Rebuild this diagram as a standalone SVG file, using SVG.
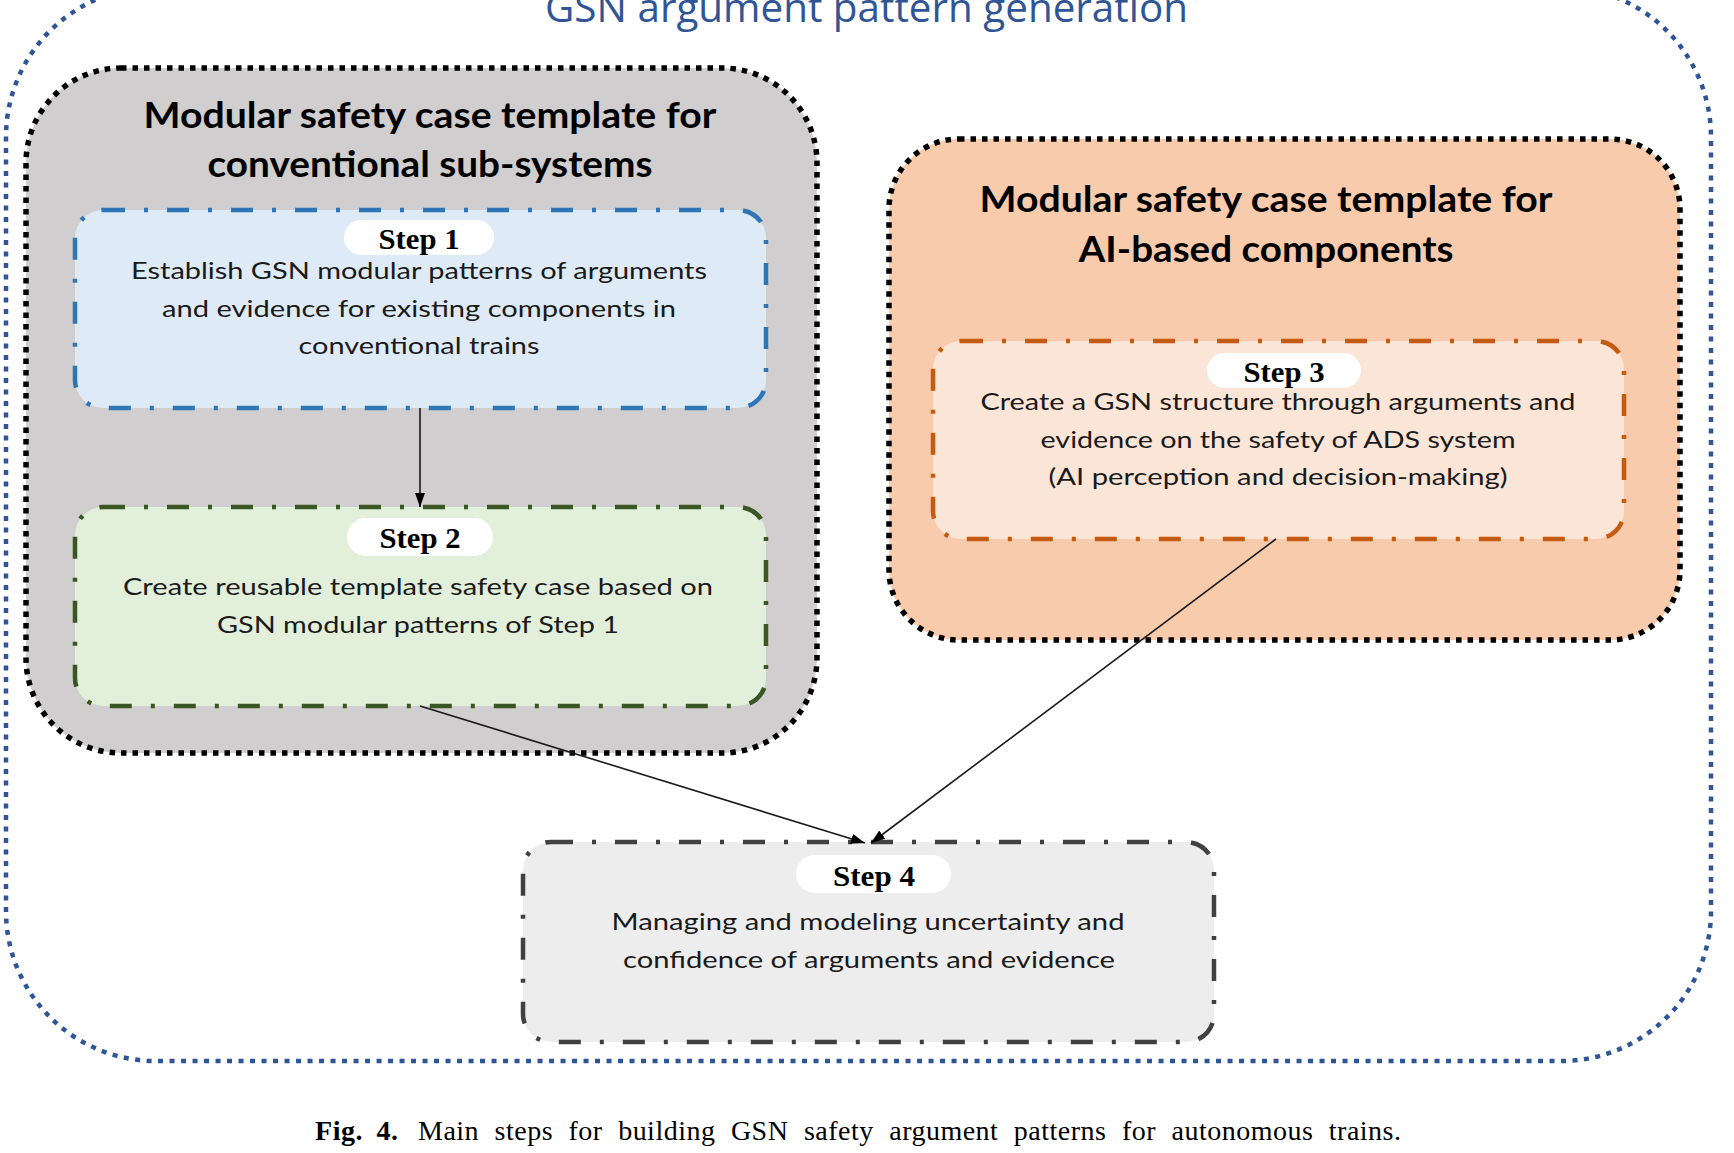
<svg xmlns="http://www.w3.org/2000/svg" width="1734" height="1153" viewBox="0 0 1734 1153">
<style>
.outer{fill:none;stroke:#2f5597;stroke-width:4.5;stroke-dasharray:5 6.5}
.grp{stroke:#000;stroke-width:5.5;stroke-dasharray:5.5 6}
.step{stroke-width:4.5;stroke-dasharray:22 19 4 19}
.pill{fill:#fff}
.ttl{font-family:Lato,"Open Sans",sans-serif;font-weight:bold;font-size:37px;fill:#000;text-anchor:middle}
.body{font-family:Lato,"Open Sans",sans-serif;font-size:24px;fill:#1a1a1a;text-anchor:middle}
.lbl{font-family:"Liberation Serif","Times New Roman",serif;font-weight:bold;font-size:29px;fill:#000;text-anchor:middle}
.cap{font-family:"Liberation Serif","Times New Roman",serif;font-size:28px;fill:#000}
.conn{stroke:#1a1a1a;stroke-width:1.6;fill:none}
</style>
<defs>
<marker id="arr" markerUnits="userSpaceOnUse" markerWidth="15" markerHeight="11" refX="14" refY="5" orient="auto">
<path d="M0,0 L14,5 L0,10 z" fill="#000"/>
</marker>
</defs>
<rect width="1734" height="1153" fill="#fff"/>
<g id="outer">
<rect class="outer" x="6" y="-13" width="1705" height="1074" rx="150"/>
<text x="545" y="22" font-family="'Open Sans',sans-serif" font-size="40" fill="#2f5597" textLength="643" lengthAdjust="spacingAndGlyphs">GSN argument pattern generation</text>
</g>
<g id="conventional">
<rect class="grp" x="26" y="68" width="791" height="685" rx="95" fill="#d0cece"/>
<text class="ttl" x="430" y="128" textLength="573" lengthAdjust="spacingAndGlyphs">Modular safety case template for</text>
<text class="ttl" x="430" y="177" textLength="445" lengthAdjust="spacingAndGlyphs">conventional sub-systems</text>
</g>
<g id="step1">
<rect class="step" x="75" y="210" width="691" height="198" rx="28" fill="#deebf7" stroke="#2e75b6"/>
<rect class="pill" x="344" y="220" width="150" height="35" rx="17.5"/>
<text class="lbl" x="419" y="249" textLength="81" lengthAdjust="spacingAndGlyphs">Step 1</text>
<text class="body" x="419" y="279" textLength="576" lengthAdjust="spacingAndGlyphs">Establish GSN modular patterns of arguments</text>
<text class="body" x="419" y="317" textLength="514" lengthAdjust="spacingAndGlyphs">and evidence for existing components in</text>
<text class="body" x="419" y="354" textLength="241" lengthAdjust="spacingAndGlyphs">conventional trains</text>
</g>
<g id="step2">
<rect class="step" x="75" y="507" width="691" height="199" rx="28" fill="#e2efda" stroke="#385723"/>
<rect class="pill" x="347" y="518" width="146" height="38" rx="19"/>
<text class="lbl" x="420" y="548" textLength="81" lengthAdjust="spacingAndGlyphs">Step 2</text>
<text class="body" x="418" y="595" textLength="590" lengthAdjust="spacingAndGlyphs">Create reusable template safety case based on</text>
<text class="body" x="418" y="633" textLength="402" lengthAdjust="spacingAndGlyphs">GSN modular patterns of Step 1</text>
</g>
<g id="ai">
<rect class="grp" x="889" y="139" width="791" height="501" rx="70" fill="#f8cbad"/>
<text class="ttl" x="1266" y="212" textLength="573" lengthAdjust="spacingAndGlyphs">Modular safety case template for</text>
<text class="ttl" x="1266" y="262" textLength="375" lengthAdjust="spacingAndGlyphs">AI-based components</text>
</g>
<g id="step3">
<rect class="step" x="933" y="341" width="691" height="198" rx="28" fill="#fbe5d6" stroke="#c55a11"/>
<rect class="pill" x="1207" y="353" width="154" height="35" rx="17.5"/>
<text class="lbl" x="1284" y="382" textLength="81" lengthAdjust="spacingAndGlyphs">Step 3</text>
<text class="body" x="1278" y="410" textLength="595" lengthAdjust="spacingAndGlyphs">Create a GSN structure through arguments and</text>
<text class="body" x="1278" y="448" textLength="475" lengthAdjust="spacingAndGlyphs">evidence on the safety of ADS system</text>
<text class="body" x="1278" y="485" textLength="459" lengthAdjust="spacingAndGlyphs">(AI perception and decision-making)</text>
</g>
<g id="step4">
<rect class="step" x="523" y="842" width="691" height="200" rx="28" fill="#ededed" stroke="#404040"/>
<rect class="pill" x="796" y="855" width="155" height="38" rx="19"/>
<text class="lbl" x="874" y="886" textLength="82" lengthAdjust="spacingAndGlyphs">Step 4</text>
<text class="body" x="868" y="930" textLength="513" lengthAdjust="spacingAndGlyphs">Managing and modeling uncertainty and</text>
<text class="body" x="869" y="968" textLength="492" lengthAdjust="spacingAndGlyphs">confidence of arguments and evidence</text>
</g>
<g id="connectors">
<line class="conn" x1="420" y1="408" x2="420" y2="507" marker-end="url(#arr)"/>
<line class="conn" x1="420" y1="706" x2="865" y2="843" marker-end="url(#arr)"/>
<line class="conn" x1="1276" y1="539" x2="871" y2="843" marker-end="url(#arr)"/>
</g>
<g id="caption">
<text class="cap" x="315" y="1140" font-weight="bold" word-spacing="6" textLength="83" lengthAdjust="spacing">Fig. 4.</text>
<text class="cap" x="418" y="1140" word-spacing="8" textLength="983" lengthAdjust="spacing">Main steps for building GSN safety argument patterns for autonomous trains.</text>
</g>
</svg>
